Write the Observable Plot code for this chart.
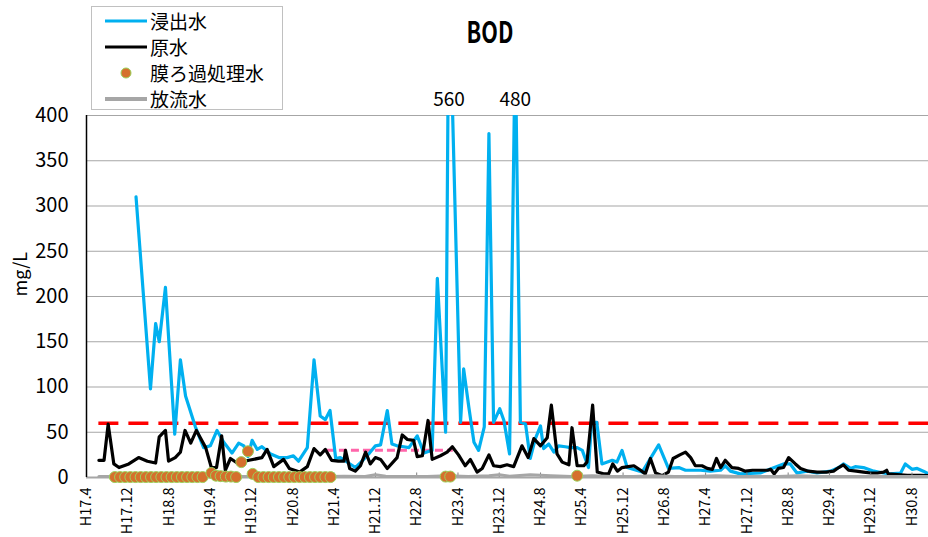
<!DOCTYPE html>
<html>
<head>
<meta charset="utf-8">
<script src="https://cdn.jsdelivr.net/npm/d3@7"></script>
<script src="https://cdn.jsdelivr.net/npm/@observablehq/plot@0.6"></script>
<style>
  html, body { margin: 0; padding: 0; background: #fff; }
  body { font-family: "Noto Sans CJK JP", "Noto Sans", sans-serif; }
  #wrap { position: relative; width: 928px; height: 537px; overflow: hidden; }
  #chart svg { display: block; }
  #title { position: absolute; left: 440px; top: 15px; width: 100px; text-align: center;
           font-weight: 700; font-size: 30px; line-height: 30px; transform: scaleX(0.72); }
  #legend { position: absolute; left: 91px; top: 6px; width: 192px; height: 104px;
            border: 1px solid #c0c0c0; background: #fff; box-sizing: border-box; }
  .lrow { position: absolute; left: 0; height: 26px; width: 190px; }
  .lrow svg { position: absolute; left: 12px; top: 0; }
  .lrow span { position: absolute; left: 58px; top: 0; font-size: 19px; line-height: 26px; color: #000; }
</style>
</head>
<body>
<div id="wrap">
  <div id="chart"></div>
  <div id="title">BOD</div>
  <div id="legend"></div>
</div>
<script>
// ---- axis ticks (x = months since H17.4) ----
const xTicks = [0, 8, 16, 24, 32, 40, 48, 56, 64, 72, 80, 88, 96, 104, 112, 120, 128, 136, 144, 152, 160];
const xTickLabels = ["H17.4", "H17.12", "H18.8", "H19.4", "H19.12", "H20.8", "H21.4", "H21.12", "H22.8",
  "H23.4", "H23.12", "H24.8", "H25.4", "H25.12", "H26.8", "H27.4", "H27.12", "H28.8", "H29.4", "H29.12", "H30.8"];
const xDomain = [0, 163.2];
const yTicks = [0, 50, 100, 150, 200, 250, 300, 350, 400];
const yDomain = [0, 400];

// ---- series names ----
const seriesNames = ["浸出水", "原水", "膜ろ過処理水", "放流水"];

// ---- 浸出水 (leachate) ----
const leachM = [9.6, 12.4, 13.4, 14.1, 15.3, 17.1, 18.2, 19.2, 21.1, 22.7, 24.0, 25.3, 26.6, 28.2, 29.5, 30.5, 31.3, 32.1, 33.1, 34.0,
  35.7, 37.3, 38.9, 40.1, 41.1, 42.8, 44.1, 45.3, 46.3, 47.2, 48.3, 49.2, 50.8, 52.1, 53.4, 54.7, 56.0, 57.0, 58.3, 59.2,
  60.2, 61.5, 62.5, 64.1, 65.4, 67.0, 68.0, 69.6, 70.25, 72.5, 73.1, 74.1, 75.1, 76.0, 77.1, 78.0, 78.9, 80.1, 80.9, 82.0,
  83.1, 84.1, 85.1, 86.0, 87.0, 88.0, 88.6, 89.6, 90.6, 91.5, 92.8, 93.8, 95.1, 96.1, 97.3, 97.9, 98.9, 99.9, 101.9, 102.8,
  103.8, 104.8, 107.7, 110.9, 112.8, 114.8, 116.1, 119.0, 120.9, 122.9, 123.8, 124.8, 126.7, 130.6, 135.1, 136.4, 137.7, 139.7, 141.6, 144.2,
  145.8, 146.7, 148.1, 149.0, 150.6, 152.6, 154.5, 155.8, 157.8, 158.7, 160.0, 161.0, 162.2, 163.2];
const leachV = [310, 98, 170, 150, 210, 48, 130, 90, 56, 33, 35, 52, 39, 27, 38, 35, 23, 41, 31, 34,
  26, 22, 22, 24, 18, 33, 130, 68, 64, 74, 21, 22, 16, 11, 18, 26, 35, 36, 74, 37,
  35, 34, 33, 46, 27, 30, 220, 50, 560, 61, 120, 78, 39, 30, 56, 380, 61, 76, 63, 26,
  480, 61, 59, 21, 43, 57, 32, 37, 28, 35, 34, 33, 33, 30, 11, 61, 61, 15, 19, 17,
  30, 11, 6, 36, 10, 11, 8, 8, 7, 8, 13, 7, 4, 5, 15, 15, 5, 7, 5, 7,
  11, 15, 10, 12, 11, 7, 5, 4, 5, 15, 9, 10, 7, 4];

// ---- 原水 (raw water) ----
const rawM = [2.4, 3.4, 4.2, 5.3, 6.3, 8.2, 10.1, 11.8, 13.4, 14.1, 15.3, 15.9, 17.2, 18.2, 19.1, 20.2, 21.3, 23.1, 24.2, 25.2,
  26.2, 26.9, 27.9, 29.2, 31.5, 34.0, 35.0, 36.3, 38.2, 39.3, 41.3, 42.8, 44.1, 45.3, 46.3, 47.5, 48.8, 49.9, 50.2, 51.0,
  52.1, 53.1, 54.1, 55.0, 56.0, 57.0, 58.3, 60.2, 61.2, 62.2, 63.4, 64.1, 65.1, 66.2, 67.0, 68.6, 69.9, 70.9, 72.1, 73.4,
  74.4, 75.7, 76.7, 78.0, 78.9, 80.2, 81.5, 82.8, 84.4, 85.6, 86.7, 88.0, 89.3, 90.1, 91.2, 92.2, 93.5, 94.1, 95.1, 96.4,
  97.0, 98.1, 99.0, 100.2, 101.2, 102.0, 102.9, 103.8, 105.0, 106.1, 107.4, 108.3, 109.3, 110.3, 111.6, 112.8, 113.7, 115.0, 116.1, 117.1,
  118.0, 119.3, 120.3, 121.3, 122.1, 122.9, 123.8, 125.1, 126.4, 127.7, 129.1, 130.6, 132.0, 132.6, 133.3, 134.1, 135.1, 136.1, 137.4, 138.4,
  139.9, 141.6, 143.4, 144.8, 145.8, 146.7, 147.7, 149.2, 150.6, 152.0, 153.3, 154.5, 155.1, 155.4, 157.8, 159.1, 160.3, 161.6, 163.2];
const rawV = [19, 19, 59, 15, 11, 15, 22, 18, 16, 45, 52, 18, 22, 28, 52, 38, 52, 33, 11, 11,
  46, 8, 21, 16, 19, 22, 31, 12, 20, 10, 6, 12, 32, 25, 31, 19, 18, 18, 30, 10,
  7, 13, 28, 15, 22, 20, 10, 22, 47, 42, 41, 23, 24, 63, 20, 24, 28, 34, 25, 13,
  20, 6, 10, 25, 13, 12, 14, 12, 35, 22, 43, 35, 44, 80, 26, 17, 14, 55, 13, 13,
  17, 80, 6, 4, 4, 15, 7, 11, 12, 13, 8, 4, 21, 5, 2, 6, 21, 25, 28, 22,
  13, 13, 10, 9, 21, 11, 19, 11, 10, 7, 8, 8, 8, 9, 4, 10, 11, 22, 15, 10,
  7, 6, 6, 7, 11, 14, 8, 7, 6, 5, 5, 6, 8, 4, 3, 2.5, 2.5, 2.5, 2];

// ---- 膜ろ過処理水 (membrane-filtered water) ----
const memM = [5.5, 6.5, 7.5, 8.5, 9.5, 10.5, 11.5, 12.5, 13.5, 14.5, 15.5, 16.5, 17.5, 18.5, 19.5, 20.5, 21.5, 22.5, 24.2, 25.1,
  26.0, 27.0, 28.0, 29.0, 30.0, 31.3, 32.2, 33.3, 34.3, 35.3, 36.3, 37.3, 38.3, 39.3, 40.3, 41.3, 42.3, 43.3, 44.3, 45.3,
  46.3, 47.3, 69.6, 70.5, 95.1];
const memV = [0.5, 0.5, 0.5, 0.5, 0.5, 0.5, 0.5, 0.5, 0.5, 0.5, 0.5, 0.5, 0.5, 0.5, 0.5, 0.5, 0.5, 0.5, 5, 2,
  1.5, 1, 1, 0.5, 17, 29, 4, 0.5, 0.5, 0.5, 0.5, 0.5, 0.5, 0.5, 0.5, 0.5, 0.5, 0.5, 0.5, 0.5,
  0.5, 0.5, 1, 1, 2];

// ---- 放流水 (discharged water) ----
const outM = [2.4, 6, 10, 14, 18, 22, 26, 30, 34, 38, 42, 46, 50, 54, 56, 58, 62, 66, 70, 74,
  78, 80, 82, 86, 90, 94, 98, 102, 106, 110, 114, 118, 122, 126, 130, 134, 138, 142, 146, 150,
  154, 158, 163.2];
const outV = [1, 1, 1, 1, 1, 1.5, 1, 1, 1, 1, 1, 1, 1.5, 1, 3, 1.5, 1, 1, 2, 1,
  2, 3, 1.5, 3, 2, 1, 2, 1, 1, 2, 1, 1, 2, 1, 1, 1, 2, 1, 1, 1,
  1, 1, 1];

// ---- reference lines ----
const refValues = [60, 30];
const refStart = [2.4, 46.7];
const refEnd = [163.2, 71.1];

const leach = leachM.map((m, i) => ({m, v: leachV[i]}));
const raw = rawM.map((m, i) => ({m, v: rawV[i]}));
const mem = memM.map((m, i) => ({m, v: memV[i]}));
const out = outM.map((m, i) => ({m, v: outV[i]}));
const refs = refValues.map((v, i) => ({v, x1: refStart[i], x2: refEnd[i]}));

const colors = {leach: "#00B0F0", raw: "#000000", mem: "#D5702D", memStroke: "#9BD15A", out: "#A6A6A6",
  red: "#FF0000", pink: "#FF66AA", grid: "#A6A6A6"};

const chart = Plot.plot({
  width: 928,
  height: 537,
  marginLeft: 86,
  marginRight: 0,
  marginTop: 115,
  marginBottom: 60,
  style: {fontFamily: '"Noto Sans CJK JP", "Noto Sans", sans-serif', background: "transparent", color: "#000"},
  x: {domain: xDomain},
  y: {domain: yDomain},
  marks: [
    Plot.ruleY(yTicks.slice(1), {stroke: colors.grid, strokeWidth: 1.2}),
    Plot.axisY(yTicks, {anchor: "left", tickSize: 0, tickPadding: 18, fontSize: 20, label: null}),
    Plot.axisX(xTicks, {anchor: "bottom", tickSize: 0, tickPadding: 10, tickRotate: -90, fontSize: 14.5, label: null,
      tickFormat: d => xTickLabels[xTicks.indexOf(d)]}),
    Plot.text(["mg/L"], {frameAnchor: "left", dx: -65, rotate: -90, fontSize: 18, text: d => d}),
    // reference limit lines
    Plot.ruleY([refs[0]], {y: "v", x1: "x1", x2: "x2", stroke: colors.red, strokeWidth: 3.5, strokeDasharray: "20,10"}),
    Plot.ruleY([refs[1]], {y: "v", x1: "x1", x2: "x2", stroke: colors.pink, strokeWidth: 3, strokeDasharray: "8,4"}),
    // series
    Plot.line(leach, {x: "m", y: "v", stroke: colors.leach, strokeWidth: 3.2, clip: true}),
    Plot.line(raw, {x: "m", y: "v", stroke: colors.raw, strokeWidth: 3.2, clip: true}),
    Plot.ruleY([0], {stroke: colors.grid, strokeWidth: 2}),
    Plot.ruleX(xTicks, {y1: 0, y2: 5, stroke: "#808080", strokeWidth: 1}),
    Plot.line(out, {x: "m", y: "v", stroke: colors.out, strokeWidth: 3, clip: true}),
    Plot.dot(mem, {x: "m", y: "v", r: 5.5, fill: colors.mem, stroke: colors.memStroke, strokeWidth: 1}),
    Plot.ruleX([0], {stroke: "#000", strokeWidth: 1.5}),
    // off-scale peak annotations
    Plot.text(leach.filter(d => d.v > yDomain[1]), {x: "m", y: () => yDomain[1], text: d => String(d.v),
      dy: -16, fontSize: 19, fill: "#000"})
  ]
});
document.getElementById("chart").appendChild(chart);

// ---- legend ----
const legend = document.getElementById("legend");
const legendStyles = [
  {type: "line", color: colors.leach, width: 3},
  {type: "line", color: colors.raw, width: 3},
  {type: "dot", color: colors.mem, stroke: colors.memStroke},
  {type: "line", color: colors.out, width: 4}
];
seriesNames.forEach((name, i) => {
  const row = document.createElement("div");
  row.className = "lrow";
  row.style.top = (1 + 26 * i) + "px";
  const s = legendStyles[i];
  const sample = s.type === "line"
    ? `<svg width="44" height="26"><line x1="1" x2="43" y1="13" y2="13" stroke="${s.color}" stroke-width="${s.width}"/></svg>`
    : `<svg width="44" height="26"><circle cx="22" cy="13" r="5" fill="${s.color}" stroke="${s.stroke}" stroke-width="1"/></svg>`;
  row.innerHTML = sample + `<span>${name}</span>`;
  legend.appendChild(row);
});
</script>
</body>
</html>
